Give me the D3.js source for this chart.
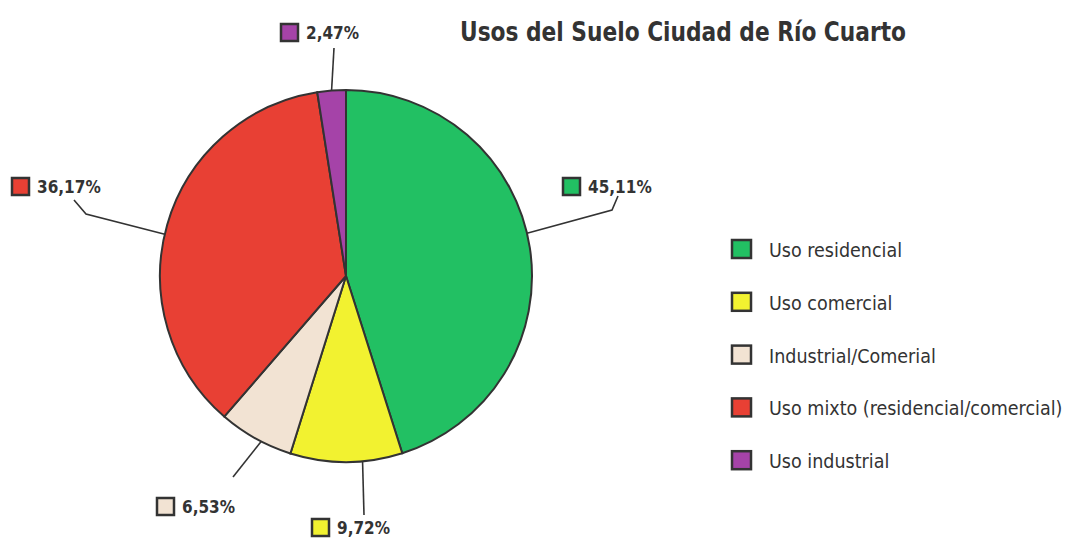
<!doctype html>
<html>
<head>
<meta charset="utf-8">
<title>Usos del Suelo Ciudad de Río Cuarto</title>
<script src="https://d3js.org/d3.v7.min.js"></script>
<style>
  body { margin: 0; background: #fff; }
  svg { display: block; }
  text { font-family: "Liberation Sans Narrow", "DejaVu Sans Condensed", "Liberation Sans", sans-serif; fill: #333; }
</style>
</head>
<body>
<svg id="chart" width="1074" height="540"></svg>
<script>
  var categories = ["Uso residencial", "Uso comercial", "Industrial/Comerial", "Uso mixto (residencial/comercial)", "Uso industrial"];
  var values = [45.11, 9.72, 6.53, 36.17, 2.47];
  var valueLabels = ["45,11%", "9,72%", "6,53%", "36,17%", "2,47%"];
  var colors = ["#22c063", "#f2f230", "#f2e3d3", "#e84034", "#a543a8"];

  var svg = d3.select("#chart");
  var cx = 346, cy = 276, r = 186;

  // label placement per slice: leader nudge (deg), elbow, label box
  var layout = [
    { nudge: -4.5, elbow: [612, 210], end: [618, 196], box: [563, 178] },
    { nudge: -5,   elbow: null,       end: [364, 515], box: [312, 519] },
    { nudge: -2,   elbow: null,       end: [233, 477], box: [157, 498] },
    { nudge: -3,   elbow: [86, 214],  end: [74, 200],  box: [12, 178] },
    { nudge: 0,    elbow: null,       end: [334, 48],  box: [281, 24] }
  ];

  var pie = d3.pie().sort(null).value(d => d)(values);
  var arc = d3.arc().innerRadius(0).outerRadius(r);

  var g = svg.append("g").attr("transform", "translate(" + cx + "," + cy + ")");
  g.selectAll("path")
    .data(pie).enter()
    .append("path")
      .attr("d", arc)
      .style("fill", (d, i) => colors[i])
      .style("stroke", "#333")
      .style("stroke-width", 2);

  // leaders + value labels
  pie.forEach(function(d, i) {
    var L = layout[i];
    var a = (d.startAngle + d.endAngle) / 2 + L.nudge * Math.PI / 180;
    var p0 = [cx + r * Math.sin(a), cy - r * Math.cos(a)];
    var pts = [p0];
    if (L.elbow) pts.push(L.elbow);
    pts.push(L.end);
    svg.append("path")
      .attr("d", d3.line()(pts))
      .style("fill", "none")
      .style("stroke", "#333")
      .style("stroke-width", 1.6);

    svg.append("rect")
      .attr("x", L.box[0]).attr("y", L.box[1])
      .attr("width", 17).attr("height", 17)
      .style("fill", colors[i])
      .style("stroke", "#333")
      .style("stroke-width", 2.5);
    svg.append("text")
      .attr("x", L.box[0] + 25).attr("y", L.box[1] + 15)
      .style("font-size", "17px")
      .style("font-weight", "bold")
      .text(valueLabels[i]);
  });

  // legend
  var legend = svg.append("g").attr("transform", "translate(732,240)");
  var lg = legend.selectAll("g.item")
    .data(categories).enter()
    .append("g")
      .attr("class", "item")
      .attr("transform", (d, i) => "translate(0," + (i * 52.8) + ")");
  lg.append("rect")
    .attr("width", 19).attr("height", 18)
    .style("fill", (d, i) => colors[i])
    .style("stroke", "#333")
    .style("stroke-width", 2.5);
  lg.append("text")
    .attr("x", 37).attr("y", 17)
    .style("font-size", "19.5px")
    .text(d => d);

  svg.append("text")
    .attr("x", 460).attr("y", 41)
    .attr("textLength", 446)
    .attr("lengthAdjust", "spacingAndGlyphs")
    .style("font-size", "27px")
    .style("font-weight", "bold")
    .text("Usos del Suelo Ciudad de Río Cuarto");
</script>
</body>
</html>
